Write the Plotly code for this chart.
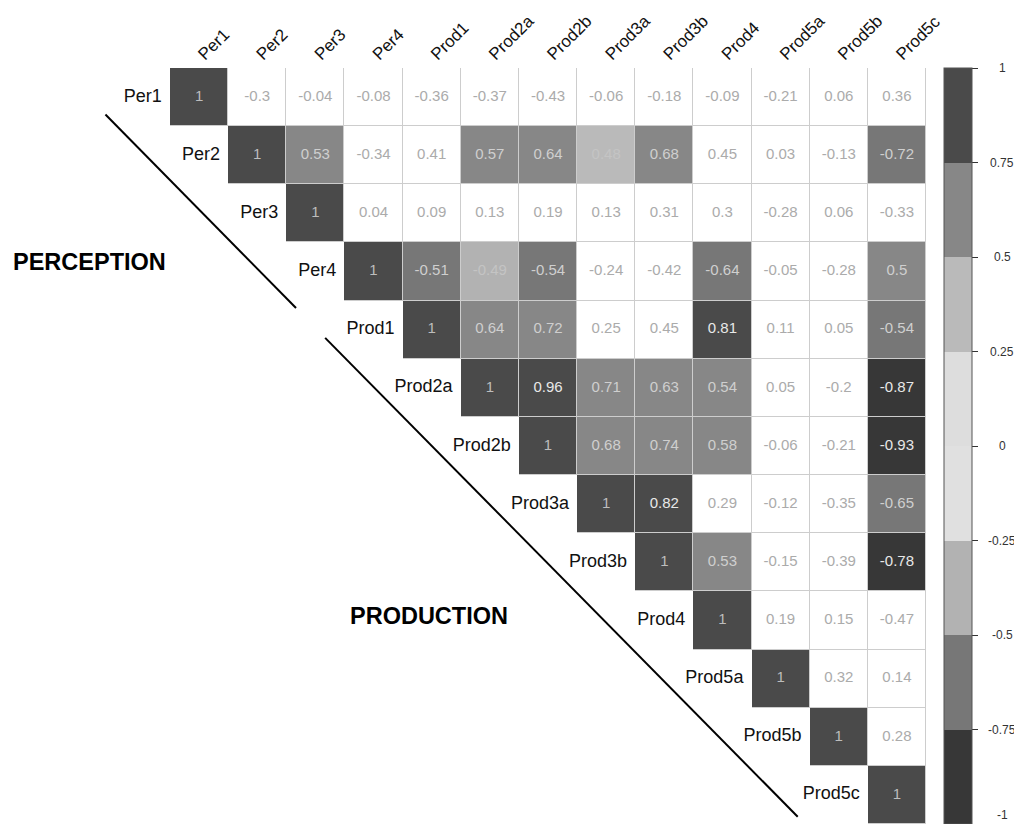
import math
import plotly.graph_objects as go

# ---------------- data ----------------
labels = ["Per1", "Per2", "Per3", "Per4", "Prod1", "Prod2a", "Prod2b",
          "Prod3a", "Prod3b", "Prod4", "Prod5a", "Prod5b", "Prod5c"]

# upper-triangle rows (row i starts at column i)
row_per1 = [1, -0.3, -0.04, -0.08, -0.36, -0.37, -0.43, -0.06, -0.18, -0.09, -0.21, 0.06, 0.36]
row_per2 = [1, 0.53, -0.34, 0.41, 0.57, 0.64, 0.48, 0.68, 0.45, 0.03, -0.13, -0.72]
row_per3 = [1, 0.04, 0.09, 0.13, 0.19, 0.13, 0.31, 0.3, -0.28, 0.06, -0.33]
row_per4 = [1, -0.51, -0.49, -0.54, -0.24, -0.42, -0.64, -0.05, -0.28, 0.5]
row_prod1 = [1, 0.64, 0.72, 0.25, 0.45, 0.81, 0.11, 0.05, -0.54]
row_prod2a = [1, 0.96, 0.71, 0.63, 0.54, 0.05, -0.2, -0.87]
row_prod2b = [1, 0.68, 0.74, 0.58, -0.06, -0.21, -0.93]
row_prod3a = [1, 0.82, 0.29, -0.12, -0.35, -0.65]
row_prod3b = [1, 0.53, -0.15, -0.39, -0.78]
row_prod4 = [1, 0.19, 0.15, -0.47]
row_prod5a = [1, 0.32, 0.14]
row_prod5b = [1, 0.28]
row_prod5c = [1]

upper_rows = [row_per1, row_per2, row_per3, row_per4, row_prod1, row_prod2a,
              row_prod2b, row_prod3a, row_prod3b, row_prod4, row_prod5a,
              row_prod5b, row_prod5c]

# significant (shaded) off-diagonal pairs
significant = [
    ("Per2", "Per3"), ("Per2", "Prod2a"), ("Per2", "Prod2b"), ("Per2", "Prod3a"),
    ("Per2", "Prod3b"), ("Per2", "Prod5c"),
    ("Per4", "Prod1"), ("Per4", "Prod2a"), ("Per4", "Prod2b"), ("Per4", "Prod4"),
    ("Per4", "Prod5c"),
    ("Prod1", "Prod2a"), ("Prod1", "Prod2b"), ("Prod1", "Prod4"), ("Prod1", "Prod5c"),
    ("Prod2a", "Prod2b"), ("Prod2a", "Prod3a"), ("Prod2a", "Prod3b"), ("Prod2a", "Prod4"),
    ("Prod2a", "Prod5c"),
    ("Prod2b", "Prod3a"), ("Prod2b", "Prod3b"), ("Prod2b", "Prod4"), ("Prod2b", "Prod5c"),
    ("Prod3a", "Prod3b"), ("Prod3a", "Prod5c"),
    ("Prod3b", "Prod4"), ("Prod3b", "Prod5c"),
]

cbar_labels = ["-1", "-0.75", "-0.5", "-0.25", "0", "0.25", "0.5", "0.75", "1"]

group_labels = ["PERCEPTION", "PRODUCTION"]

# ---------------- styling ----------------
bin_colors = ["#373737", "#777777", "#b2b2b2", "#e0e0e0",
              "#dddddd", "#bababa", "#878787", "#4a4a4a"]
nb = len(bin_colors)
colorscale = []
for k, c in enumerate(bin_colors):
    colorscale.append([k / nb, c])
    colorscale.append([(k + 1) / nb, c])

n = len(labels)
idx = {l: i for i, l in enumerate(labels)}
sig_set = {(idx[a], idx[b]) for a, b in significant}

def bin_of(v):
    b = int(math.floor((v + 1) / 0.25 + 1e-9))
    return min(max(b, 0), nb - 1)

under_z = [[None] * n for _ in range(n)]
white_z = [[None] * n for _ in range(n)]
col_z = [[None] * n for _ in range(n)]
tx, ty, tt, tc = [], [], [], []
for i, row in enumerate(upper_rows):
    for k, v in enumerate(row):
        j = i + k
        under_z[i][j] = 1
        white_z[i][j] = 1
        shaded = (i == j) or ((i, j) in sig_set)
        b = bin_of(v)
        if shaded:
            col_z[i][j] = b + 0.5
        tx.append(j)
        ty.append(i)
        tt.append(f"{v:g}")
        if i == j:
            tc.append("#bdbdbd")
        elif shaded:
            if b in (0, 7):
                tc.append("#e8e8e8")
            elif b in (2, 5):
                tc.append("#c4c4c4")
            else:
                tc.append("#cfcfcf")
        else:
            tc.append("#ababab")

font_fam = "Liberation Sans, Arial, sans-serif"
gaps = 1

# page body has an 8px margin: figure sized so the page needs no scrollbars
fig_w, fig_h = 1006, 816
grid_size = 756
cell = grid_size / 13
grid_left = 162          # figure px of grid's left edge
plot_w = grid_left + grid_size
mt, mb = 60, 0
mr = fig_w - plot_w
x_left = -0.5 - grid_left / cell

fig = go.Figure()
fig.add_trace(go.Heatmap(
    z=under_z, x=list(range(n)), y=list(range(n)),
    colorscale=[[0, "#cdcdcd"], [1, "#cdcdcd"]], showscale=False,
    hoverinfo="skip"))
fig.add_trace(go.Heatmap(
    z=white_z, x=list(range(n)), y=list(range(n)),
    colorscale=[[0, "#ffffff"], [1, "#ffffff"]], showscale=False,
    xgap=gaps, ygap=gaps, hoverinfo="skip"))
fig.add_trace(go.Heatmap(
    z=col_z, x=list(range(n)), y=list(range(n)),
    colorscale=colorscale, zmin=0, zmax=nb,
    xgap=gaps, ygap=gaps, hoverinfo="skip",
    colorbar=dict(
        tickmode="array", tickvals=list(range(nb + 1)), ticktext=cbar_labels,
        showticklabels=False,
        ticks="outside", ticklen=6, tickcolor="#333333", tickwidth=1,
        thickness=28, len=1, lenmode="fraction", y=0.5, yanchor="middle",
        x=936 / plot_w, xanchor="left", xpad=0, ypad=0,
        outlinecolor="#555555", outlinewidth=1,
    )))

# cell values
fig.add_trace(go.Scatter(
    x=tx, y=ty, text=tt, mode="text",
    textfont=dict(family=font_fam, size=15, color=tc),
    hoverinfo="skip", showlegend=False))

# row labels next to diagonal cells
fig.add_trace(go.Scatter(
    x=[i - 0.5 - 0.14 for i in range(n)], y=list(range(n)), text=labels,
    mode="text", textposition="middle left",
    textfont=dict(family=font_fam, size=18, color="#111111"),
    hoverinfo="skip", showlegend=False))

annotations = [
    dict(x=-1.886, y=2.836, xref="x", yref="y", text="<b>" + group_labels[0] + "</b>",
         showarrow=False, font=dict(family=font_fam, size=23.5, color="black"),
         xanchor="center", yanchor="middle"),
    dict(x=3.948, y=8.925, xref="x", yref="y", text="<b>" + group_labels[1] + "</b>",
         showarrow=False, font=dict(family=font_fam, size=23.5, color="black"),
         xanchor="center", yanchor="middle"),
]
# colorbar labels to the right of the ticks
for k, lab in enumerate(cbar_labels):
    annotations.append(dict(
        x=994 / plot_w, y=k / nb, xref="paper", yref="paper", text=lab,
        showarrow=False, xanchor="center",
        yanchor="bottom" if k == 0 else "middle",
        font=dict(family=font_fam, size=12, color="#333333")))

fig.update_layout(
    width=fig_w, height=fig_h,
    margin=dict(l=0, r=mr, t=mt, b=mb),
    paper_bgcolor="white", plot_bgcolor="white",
    showlegend=False,
    xaxis=dict(range=[x_left, n - 0.5], side="top", tickmode="array",
               tickvals=list(range(n)), ticktext=labels, tickangle=-45,
               tickfont=dict(family=font_fam, size=17, color="#111111"),
               showgrid=False, zeroline=False, showline=False, ticks="",
               automargin=False),
    yaxis=dict(range=[n - 0.5, -0.5], visible=False, showgrid=False,
               zeroline=False, automargin=False),
    shapes=[
        dict(type="line", xref="x", yref="y", x0=-1.61, y0=0.30, x1=1.667, y1=3.628,
             line=dict(color="black", width=2)),
        dict(type="line", xref="x", yref="y", x0=2.168, y0=4.141, x1=10.294, y1=12.375,
             line=dict(color="black", width=2)),
    ],
    annotations=annotations,
)

fig.write_html("out.html")
